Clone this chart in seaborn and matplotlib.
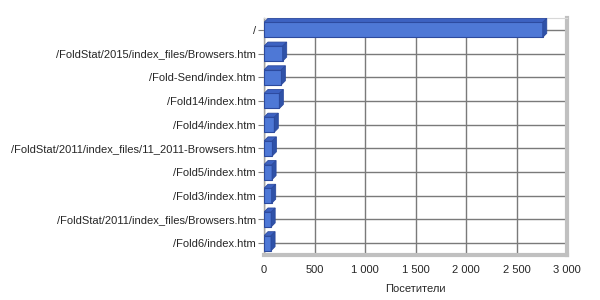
import matplotlib
matplotlib.use("Agg")
import matplotlib.pyplot as plt
import seaborn as sns
import pandas as pd
from matplotlib.patches import Polygon
from matplotlib.ticker import FuncFormatter

pages = ["/", "/FoldStat/2015/index_files/Browsers.htm", "/Fold-Send/index.htm",
         "/Fold14/index.htm", "/Fold4/index.htm",
         "/FoldStat/2011/index_files/11_2011-Browsers.htm", "/Fold5/index.htm",
         "/Fold3/index.htm", "/FoldStat/2011/index_files/Browsers.htm", "/Fold6/index.htm"]
visitors = [2760, 185, 172, 152, 102, 83, 80, 76, 71, 70]
xticks = [0, 500, 1000, 1500, 2000, 2500, 3000]

df = pd.DataFrame({"page": pages, "visitors": visitors})

sns.set_style("white")
plt.rcParams['font.family'] = ['Liberation Sans', 'DejaVu Sans']

fig = plt.figure(figsize=(6, 3), dpi=100)
ax = fig.add_axes([0.44, 0.15, 0.505, 0.79])

sns.barplot(data=df, x="visitors", y="page", orient="h", ax=ax,
            color="#4E78D6", edgecolor="#2C4A9E", linewidth=0.8, width=0.63,
            saturation=1, zorder=3)

ax.set_xlim(0, 3000)
ax.set_ylim(9.5, -0.5)
ax.set_xticks(xticks)
ax.xaxis.set_major_formatter(FuncFormatter(lambda v, p: f"{int(v):,}".replace(",", " ")))
ax.grid(True, axis="both", color="#7A7A7A", linewidth=1.0, zorder=0)
ax.set_axisbelow(True)
ax.set_yticks(range(len(pages)))
ax.set_yticks([i + 0.5 for i in range(len(pages))], minor=True)

# pseudo 3D depth on bars
dx_px, dy_px = 4, 4
for patch in list(ax.patches):
    x0, y0 = patch.get_x(), patch.get_y()
    w, h = patch.get_width(), patch.get_height()
    disp = ax.transData
    inv = disp.inverted()
    def off(pt):
        px, py = disp.transform(pt)
        return inv.transform((px + dx_px, py + dy_px))
    top_l = (x0, y0)
    top_r = (x0 + w, y0)
    bot_r = (x0 + w, y0 + h)
    top_face = [top_l, top_r, off(top_r), off(top_l)]
    side_face = [top_r, bot_r, off(bot_r), off(top_r)]
    ax.add_patch(Polygon(top_face, closed=True, facecolor="#3D62C2",
                         edgecolor="#2C4A9E", linewidth=0.6, zorder=4))
    ax.add_patch(Polygon(side_face, closed=True, facecolor="#2F52A8",
                         edgecolor="#2C4A9E", linewidth=0.6, zorder=4))

ax.spines["right"].set_color("#C0C0C0")
ax.spines["right"].set_linewidth(3)
ax.spines["bottom"].set_color("#C0C0C0")
ax.spines["bottom"].set_linewidth(3)
ax.spines["left"].set_color("#A0A0A0")
ax.spines["left"].set_linewidth(1)
ax.spines["top"].set_visible(True)
ax.spines["top"].set_color("#D8D8D8")

ax.tick_params(axis="y", length=4, color="#808080", labelsize=8, pad=2, left=True)
ax.tick_params(axis="x", length=0, labelsize=8, pad=7, bottom=True)
ax.set_ylabel("")
ax.set_xlabel("Посетители", fontsize=8, labelpad=7)

fig.savefig("out.png", dpi=100)
